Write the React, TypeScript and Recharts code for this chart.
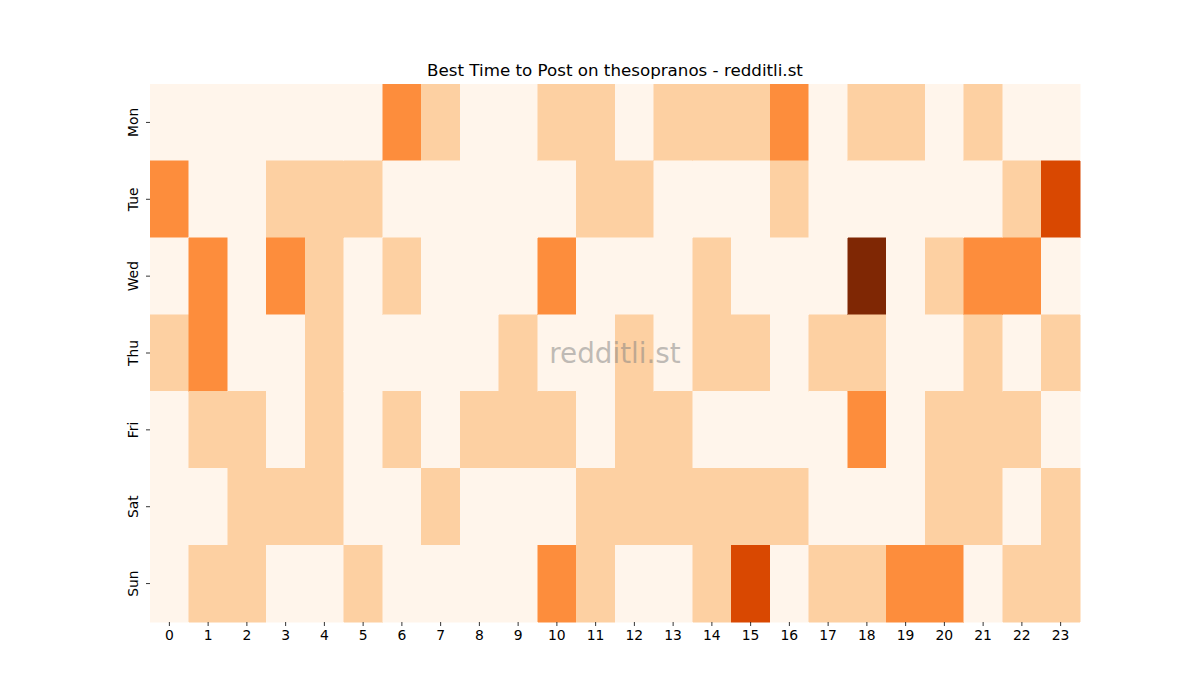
import React from 'react';
import { BarChart, Bar, XAxis, YAxis, Cell } from 'recharts';

// day rows (top to bottom) and hour columns
const DAYS = ['Mon', 'Tue', 'Wed', 'Thu', 'Fri', 'Sat', 'Sun'];
const HOURS = Array.from({ length: 24 }, (_, i) => i);

// intensity level per hour, one array per day (0 = none .. 4 = most)
const MON = [0, 0, 0, 0, 0, 0, 2, 1, 0, 0, 1, 1, 0, 1, 1, 1, 2, 0, 1, 1, 0, 1, 0, 0];
const TUE = [2, 0, 0, 1, 1, 1, 0, 0, 0, 0, 0, 1, 1, 0, 0, 0, 1, 0, 0, 0, 0, 0, 1, 3];
const WED = [0, 2, 0, 2, 1, 0, 1, 0, 0, 0, 2, 0, 0, 0, 1, 0, 0, 0, 4, 0, 1, 2, 2, 0];
const THU = [1, 2, 0, 0, 1, 0, 0, 0, 0, 1, 0, 0, 1, 0, 1, 1, 0, 1, 1, 0, 0, 1, 0, 1];
const FRI = [0, 1, 1, 0, 1, 0, 1, 0, 1, 1, 1, 0, 1, 1, 0, 0, 0, 0, 2, 0, 1, 1, 1, 0];
const SAT = [0, 0, 1, 1, 1, 0, 0, 1, 0, 0, 0, 1, 1, 1, 1, 1, 1, 0, 0, 0, 1, 1, 0, 1];
const SUN = [0, 1, 1, 0, 0, 1, 0, 0, 0, 0, 2, 1, 0, 0, 1, 3, 0, 1, 1, 2, 2, 0, 1, 1];
const LEVELS = [MON, TUE, WED, THU, FRI, SAT, SUN];

// matplotlib "Oranges" sampled at 0, .25, .5, .75, 1
const PALETTE = ['#fff5eb', '#fdd0a2', '#fd8d3c', '#d94801', '#7f2704'];

const FONT = '"DejaVu Sans", sans-serif';

// every cell is one unit wide; stacking 24 of them fills the row
const data = DAYS.map((day) => {
  const row: Record<string, string | number> = { day };
  HOURS.forEach((h) => {
    row[`h${h}`] = 1;
  });
  return row;
});

const DayTick = (props: any) => {
  const { x, y, payload } = props;
  return (
    <g>
      <line x1={x + 4} y1={y} x2={x + 8} y2={y} stroke="#000" strokeWidth={0.8} />
      <text
        x={x - 9}
        y={y}
        dy={5}
        transform={`rotate(-90, ${x - 9}, ${y})`}
        textAnchor="middle"
        fontFamily={FONT}
        fontSize={13.9}
        fill="#000"
      >
        {payload.value}
      </text>
    </g>
  );
};

const HourTick = (props: any) => {
  const { x, y, payload } = props;
  return (
    <g>
      <line x1={x} y1={y - 8} x2={x} y2={y - 4} stroke="#000" strokeWidth={0.8} />
      <text x={x} y={y + 10} textAnchor="middle" fontFamily={FONT} fontSize={13.9} fill="#000">
        {payload.value - 0.5}
      </text>
    </g>
  );
};

export default function App() {
  return (
    <div style={{ position: 'absolute', left: 0, top: 0, width: 1200, height: 700, background: '#fff' }}>
      <BarChart
        width={1200}
        height={700}
        data={data}
        layout="vertical"
        barCategoryGap={0}
        margin={{ top: 84, right: 120, bottom: 48, left: 110 }}
      >
        <XAxis
          type="number"
          domain={[0, 24]}
          ticks={HOURS.map((h) => h + 0.5)}
          interval={0}
          axisLine={false}
          tickLine={false}
          tick={<HourTick />}
          height={30}
        />
        <YAxis
          type="category"
          dataKey="day"
          axisLine={false}
          tickLine={false}
          tick={<DayTick />}
          width={40}
        />
        {HOURS.map((h) => (
          <Bar
            key={h}
            dataKey={`h${h}`}
            stackId="row"
            isAnimationActive={false}
            shapeRendering="crispEdges"
          >
            {DAYS.map((_, d) => (
              <Cell
                key={d}
                fill={PALETTE[LEVELS[d][h]]}
                stroke={PALETTE[LEVELS[d][h]]}
                strokeWidth={0.5}
              />
            ))}
          </Bar>
        ))}
      </BarChart>
      <svg
        width={1200}
        height={700}
        style={{ position: 'absolute', left: 0, top: 0, pointerEvents: 'none' }}
      >
        <text x={615} y={76} textAnchor="middle" fontFamily={FONT} fontSize={16.7} fill="#000">
          Best Time to Post on thesopranos - redditli.st
        </text>
        <text
          x={615}
          y={363}
          textAnchor="middle"
          fontFamily={FONT}
          fontSize={27.8}
          fill="#808080"
          fillOpacity={0.5}
        >
          redditli.st
        </text>
      </svg>
    </div>
  );
}
